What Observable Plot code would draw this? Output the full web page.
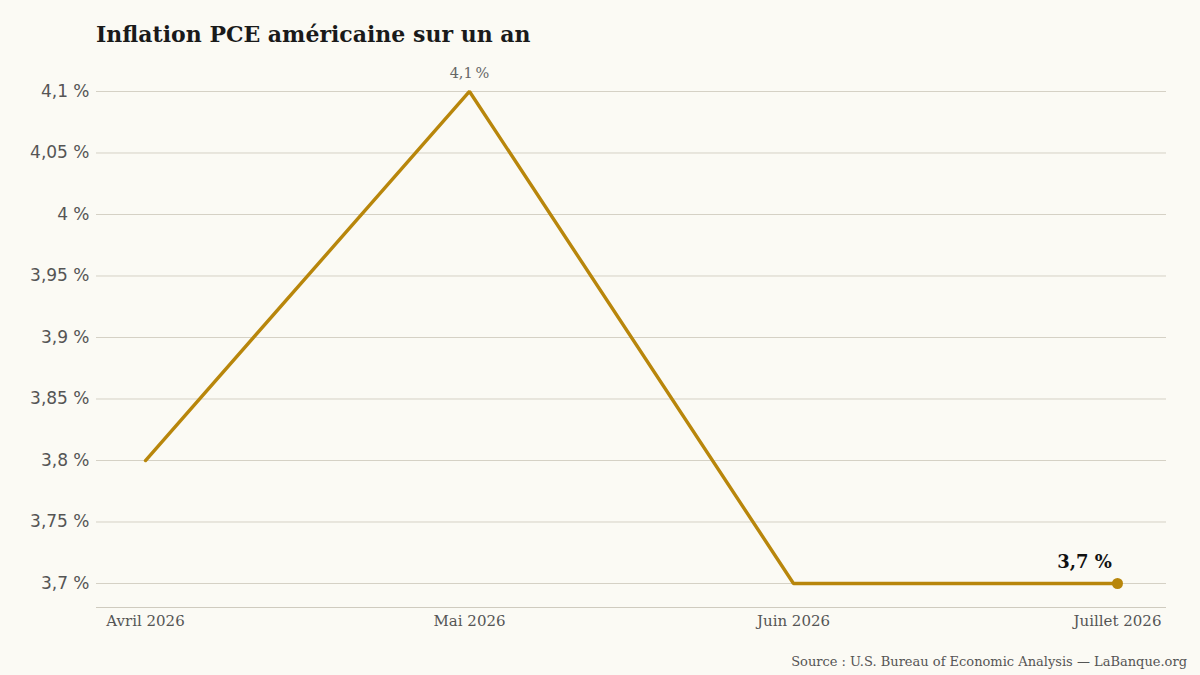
<!DOCTYPE html>
<html>
<head>
<meta charset="utf-8">
<script src="https://cdn.jsdelivr.net/npm/d3@7"></script>
<script src="https://cdn.jsdelivr.net/npm/@observablehq/plot@0.6"></script>
<style>
  html, body { margin: 0; padding: 0; background: #fbfaf4; }
  #wrap { position: relative; width: 1200px; height: 675px; overflow: hidden; background: #fbfaf4; }
  #title { position: absolute; left: 96px; top: 21px; margin: 0; font-family: "DejaVu Serif", serif; font-weight: bold; font-size: 22px; color: #1a1a1a; white-space: nowrap; }
  #chart { position: absolute; left: 0; top: 55px; }
  #source { position: absolute; right: 13px; top: 654px; font-family: "DejaVu Serif", serif; font-size: 13px; color: #555; white-space: nowrap; }
</style>
</head>
<body>
<div id="wrap">
  <h1 id="title">Inflation PCE américaine sur un an</h1>
  <div id="chart"></div>
  <div id="source">Source : U.S. Bureau of Economic Analysis — LaBanque.org</div>
</div>
<script>
const months = ["Avril 2026", "Mai 2026", "Juin 2026", "Juillet 2026"];
const values = [3.8, 4.1, 3.7, 3.7];
const yTicks = [3.7, 3.75, 3.8, 3.85, 3.9, 3.95, 4.0, 4.05, 4.1];

const data = months.map((m, i) => ({ month: m, value: values[i] }));
const fr = v => String(+v.toFixed(2)).replace(".", ",") + " %";
const yMin = 3.6805, yMax = 4.113;
const last = data[data.length - 1];
const peak = data.reduce((a, b) => (b.value > a.value ? b : a));

const chart = Plot.plot({
  width: 1200,
  height: 580,
  marginLeft: 96,
  marginRight: 34,
  marginTop: 20,
  marginBottom: 28,
  style: { background: "transparent", color: "#555" },
  x: { type: "point", domain: months, padding: 0.151, label: null },
  y: { domain: [yMin, yMax], label: null },
  marks: [
    Plot.ruleY(yTicks, { stroke: "#d5d1c5", strokeWidth: 1 }),
    Plot.ruleY([yMin], { stroke: "#cfcbbf", strokeWidth: 1.2 }),
    Plot.axisY(yTicks, { tickSize: 0, tickPadding: 7, tickFormat: fr, fontFamily: "DejaVu Sans, sans-serif", fontSize: 17, fill: "#555", label: null }),
    Plot.axisX({ tickSize: 0, tickPadding: 8, fontFamily: "DejaVu Serif, serif", fontSize: 15, fill: "#555", label: null }),
    Plot.line(data, { x: "month", y: "value", stroke: "#b8860b", strokeWidth: 3.4, strokeLinejoin: "miter" }),
    Plot.dot([last], { x: "month", y: "value", r: 5.5, fill: "#b8860b" }),
    Plot.text([peak], { x: "month", y: "value", text: d => fr(d.value).replace(" %", "\u2009%"), dy: -18, fontFamily: "DejaVu Serif, serif", fontSize: 14.5, fill: "#666" }),
    Plot.text([last], { x: "month", y: "value", text: d => fr(d.value), dx: -33, dy: -21, fontFamily: "DejaVu Serif, serif", fontSize: 18, fontWeight: "bold", fill: "#111" })
  ]
});
document.getElementById("chart").appendChild(chart);
</script>
</body>
</html>
